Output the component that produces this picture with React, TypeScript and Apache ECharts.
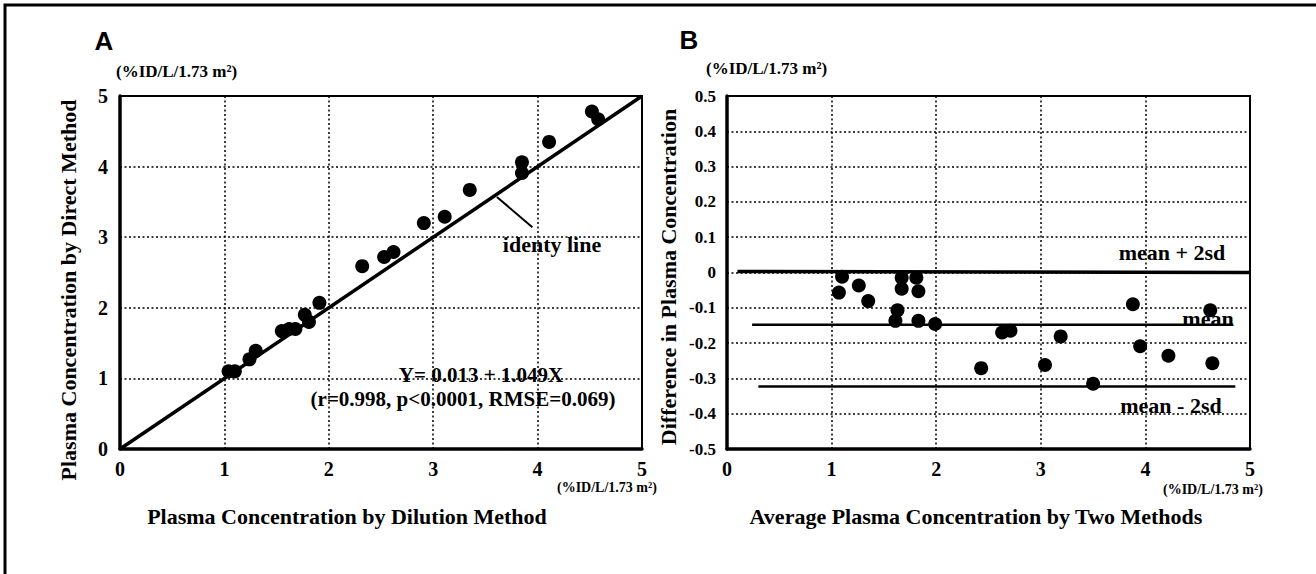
import React, { useEffect, useRef } from "react";
import * as echarts from "echarts";

// Panel A: plasma concentration by dilution method (x) vs direct method (y)
const dilutionX = [1.04, 1.1, 1.24, 1.3, 1.55, 1.62, 1.68, 1.77, 1.81, 1.91, 2.32, 2.53, 2.62, 2.91, 3.11, 3.35, 3.85, 3.85, 4.11, 4.52, 4.58];
const directY = [1.1, 1.1, 1.27, 1.39, 1.67, 1.7, 1.7, 1.9, 1.8, 2.07, 2.59, 2.72, 2.79, 3.2, 3.29, 3.67, 4.06, 3.91, 4.35, 4.78, 4.67];
const identityLine = [[0, 0], [5, 5]];
const pointerLine = [[3.61, 3.57], [3.95, 3.14]];

// Panel B: Bland-Altman
const avgX = [1.07, 1.1, 1.26, 1.35, 1.61, 1.63, 1.67, 1.67, 1.81, 1.83, 1.83, 1.99, 2.43, 2.63, 2.71, 3.04, 3.19, 3.5, 3.88, 3.95, 4.22, 4.62, 4.64];
const diffY = [-0.057, -0.012, -0.037, -0.081, -0.137, -0.107, -0.015, -0.046, -0.015, -0.053, -0.137, -0.146, -0.271, -0.17, -0.165, -0.262, -0.181, -0.315, -0.09, -0.209, -0.236, -0.107, -0.257];
const meanPlus2sd = [[0.1, 0.003], [5, 0.0]];
const meanLine = [[0.24, -0.148], [4.84, -0.148]];
const meanMinus2sd = [[0.3, -0.323], [4.86, -0.323]];

const xTicksA = [0, 1, 2, 3, 4, 5];
const yTicksB = [-0.5, 0.5];

const SERIF = "'Liberation Serif', 'Times New Roman', serif";
const font = (size: number) => `bold ${size}px ${SERIF}`;

export default function App() {
  const ref = useRef<HTMLDivElement>(null);
  useEffect(() => {
    if (!ref.current) return;
    const chart = echarts.init(ref.current, undefined, { renderer: "svg" });
    const dotted = { show: true, lineStyle: { color: "#000", width: 1.5, type: [2, 2.5] as any } };
    const axisBase = (labelSize: number, margin: number) => ({
      type: "value" as const,
      axisLine: { show: true, onZero: false, lineStyle: { color: "#000", width: 3.5 } },
      axisTick: { show: false },
      splitLine: dotted,
      axisLabel: { color: "#000", fontSize: labelSize, fontWeight: "bold" as const, fontFamily: SERIF, margin },
    });
    const txt = (text: string, x: number, y: number, size: number, extra: any = {}) => ({
      type: "text",
      x,
      y,
      ...extra,
      style: { text, font: font(size), fill: "#000", align: "center", verticalAlign: "middle", ...(extra.style || {}) },
    });
    const dot = { color: "#000", opacity: 1 };
    chart.setOption({
      animation: false,
      backgroundColor: "#fff",
      grid: [
        { left: 120, right: 674, top: 96, bottom: 125, show: true, borderColor: "#000", borderWidth: 2 },
        { left: 727, right: 66, top: 96, bottom: 125, show: true, borderColor: "#000", borderWidth: 2 },
      ],
      xAxis: [
        { ...axisBase(20, 10), gridIndex: 0, min: xTicksA[0], max: xTicksA[xTicksA.length - 1], interval: 1 },
        { ...axisBase(20, 10), gridIndex: 1, min: xTicksA[0], max: xTicksA[xTicksA.length - 1], interval: 1 },
      ],
      yAxis: [
        { ...axisBase(20, 12), gridIndex: 0, min: 0, max: 5, interval: 1 },
        {
          ...axisBase(17, 11),
          gridIndex: 1,
          min: yTicksB[0],
          max: yTicksB[1],
          interval: 0.1,
          axisLabel: {
            ...axisBase(17, 11).axisLabel,
            formatter: (v: number) => String(Math.round(v * 10) / 10),
          },
        },
      ],
      series: [
        { type: "line", xAxisIndex: 0, yAxisIndex: 0, data: identityLine, symbol: "none", lineStyle: { color: "#000", width: 3.5 }, silent: true },
        { type: "line", xAxisIndex: 0, yAxisIndex: 0, data: pointerLine, symbol: "none", lineStyle: { color: "#000", width: 2 }, silent: true },
        { type: "scatter", xAxisIndex: 0, yAxisIndex: 0, data: dilutionX.map((x, i) => [x, directY[i]]), symbolSize: 14, itemStyle: dot },
        { type: "line", xAxisIndex: 1, yAxisIndex: 1, data: meanPlus2sd, symbol: "none", lineStyle: { color: "#000", width: 3.5 }, silent: true },
        { type: "line", xAxisIndex: 1, yAxisIndex: 1, data: meanLine, symbol: "none", lineStyle: { color: "#000", width: 2.5 }, silent: true },
        { type: "line", xAxisIndex: 1, yAxisIndex: 1, data: meanMinus2sd, symbol: "none", lineStyle: { color: "#000", width: 2.5 }, silent: true },
        { type: "scatter", xAxisIndex: 1, yAxisIndex: 1, data: avgX.map((x, i) => [x, diffY[i]]), symbolSize: 14, itemStyle: dot },
      ],
      graphic: [
        { type: "polyline", shape: { points: [[5, 574], [5, 5], [1316, 5]] }, style: { stroke: "#000", lineWidth: 3, fill: "none" } },
        { type: "text", x: 104, y: 41, style: { text: "A", font: "bold 26px 'Liberation Sans', Arial, sans-serif", fill: "#000", align: "center", verticalAlign: "middle" } },
        { type: "text", x: 689, y: 40, style: { text: "B", font: "bold 26px 'Liberation Sans', Arial, sans-serif", fill: "#000", align: "center", verticalAlign: "middle" } },
        txt("(%ID/L/1.73 m²)", 116, 71, 17, { style: { align: "left" } }),
        txt("(%ID/L/1.73 m²)", 706, 68, 17, { style: { align: "left" } }),
        txt("(%ID/L/1.73 m²)", 557, 487, 14, { style: { align: "left" } }),
        txt("(%ID/L/1.73 m²)", 1163, 489, 14, { style: { align: "left" } }),
        txt("Plasma Concentration by Dilution Method", 347, 516, 22),
        txt("Average Plasma Concentration by Two Methods", 976, 516, 22),
        txt("Plasma Concentration by Direct Method", 68, 290, 22, { rotation: Math.PI / 2 }),
        txt("Difference in Plasma Concentration", 668, 277, 22, { rotation: Math.PI / 2 }),
        txt("identy line", 552, 244, 22),
        txt("Y= 0.013 + 1.049X", 481, 375, 21),
        txt("(r=0.998, p<0.0001, RMSE=0.069)", 463, 399, 21),
        txt("mean + 2sd", 1172, 252, 22),
        txt("mean", 1208, 318, 22),
        txt("mean - 2sd", 1171, 405, 22),
      ],
    });
    return () => chart.dispose();
  }, []);
  return <div ref={ref} style={{ position: "fixed", left: 0, top: 0, width: 1316, height: 574, background: "#fff" }} />;
}
